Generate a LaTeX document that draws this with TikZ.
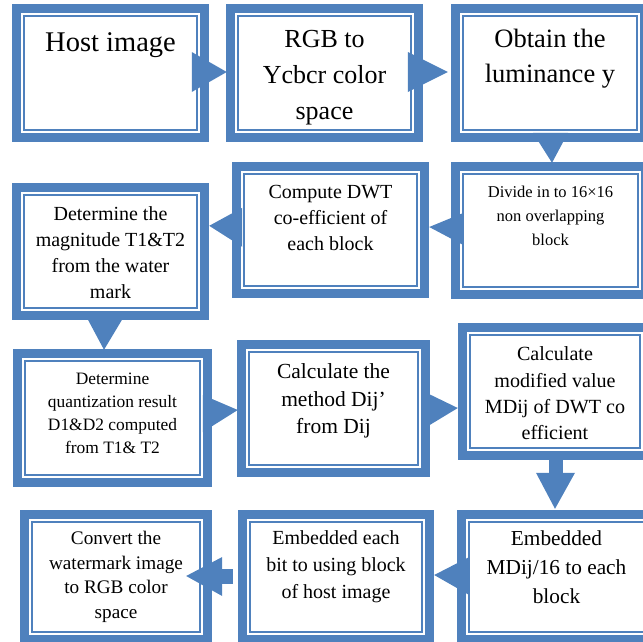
\documentclass[tikz,border=0pt]{standalone}
\usepackage{fontspec}
\setmainfont{Liberation Serif}
\usetikzlibrary{calc}
\definecolor{bl}{HTML}{4F81BD}
\begin{document}
\begin{tikzpicture}[x=1pt,y=-1pt,
  frame/.style 2 args={fill=bl, inner sep=0pt, minimum width=#1, minimum height=#2,
    path picture={
      \fill[white] ([shift={(9pt,9pt)}]path picture bounding box.south west) rectangle ([shift={(-9pt,-9pt)}]path picture bounding box.north east);
      \draw[bl, line width=2.3pt] ([shift={(12.2pt,12.2pt)}]path picture bounding box.south west) rectangle ([shift={(-12.2pt,-12.2pt)}]path picture bounding box.north east);
    }},
  txt/.style={anchor=north, inner sep=0pt, align=center, text=black},
  arr/.style={fill=bl}]
\useasboundingbox (0,0) rectangle (643,641);
\clip (0,0) rectangle (643,641);

% boxes
\node[frame={197}{138}] (b1) at (110.5,73) {};
\node[frame={197}{138}] (b2) at (324.5,73) {};
\node[frame={198}{138}] (b3) at (550,73) {};
\node[frame={199}{137}] (b4) at (550.5,230.5) {};
\node[frame={197}{136}] (b5) at (330.5,230) {};
\node[frame={197}{137}] (b6) at (110.5,251.5) {};
\node[frame={199}{138}] (b7) at (112.5,418) {};
\node[frame={193}{137}] (b8) at (333.5,408.5) {};
\node[frame={194}{137}] (b9) at (555,391.5) {};
\node[frame={199}{134}] (b10) at (556.5,577) {};
\node[frame={196}{134}] (b11) at (336,577) {};
\node[frame={192}{134}] (b12) at (116,577) {};

% texts
\node[txt, font=\fontsize{28.5}{34}\selectfont] (t1) at (110.5,32.5) {Host image};
\node[txt, font=\fontsize{26}{36}\selectfont] (t2) at (324.5,30.3) {RGB to\\Ycbcr color\\space};
\node[txt, font=\fontsize{26.5}{35}\selectfont] (t3) at (550,28.9) {Obtain the\\luminance y};
\node[txt, font=\fontsize{16.5}{24}\selectfont] (t4) at (550.5,185.7) {Divide in to 16×16\\non overlapping\\block};
\node[txt, font=\fontsize{20}{26}\selectfont] (t5) at (330.5,185.3) {Compute DWT\\co-efficient of\\each block};
\node[txt, font=\fontsize{20}{26}\selectfont] (t6) at (110.5,206.3) {Determine the\\magnitude T1\&T2\\from the water\\mark};
\node[txt, font=\fontsize{17.4}{23}\selectfont] (t7) at (112.5,372.6) {Determine\\quantization result\\D1\&D2 computed\\from T1\& T2};
\node[txt, font=\fontsize{21.5}{27.5}\selectfont] (t8) at (333.5,363.8) {Calculate the\\method Dij’\\from Dij};
\node[txt, font=\fontsize{20.1}{26.3}\selectfont] (t9) at (555,346.8) {Calculate\\modified value\\MDij of DWT co\\efficient};
\node[txt, font=\fontsize{21.3}{29}\selectfont] (t10) at (556.5,530.5) {Embedded\\MDij/16 to each\\block};
\node[txt, font=\fontsize{20}{27}\selectfont] (t11) at (336,530.8) {Embedded each\\bit to using block\\of host image};
\node[txt, font=\fontsize{19.2}{24.7}\selectfont] (t12) at (116,530.9) {Convert the\\watermark image\\to RGB color\\space};

% arrows
\fill[arr] ($(b2.west)+(-34,-21)$) -- ($(b2.west)+(1,-1)$) -- ($(b2.west)+(-34,19)$) -- cycle;
\fill[arr] ($(b3.west)+(-43,-21)$) -- ($(b3.west)+(-3,-1)$) -- ($(b3.west)+(-43,19)$) -- cycle;
\fill[arr] ($(b4.north)+(-17.5,-29)$) -- ($(b4.north)+(17.5,-29)$) -- ($(b4.north)+(1.5,1)$) -- cycle;
\fill[arr] ($(b5.east)+(34,-17)$) -- ($(b5.east)+(0,-3)$) -- ($(b5.east)+(34,15)$) -- cycle;
\fill[arr] ($(b6.north east)+(33,25)$) -- ($(b6.north east)+(0,43)$) -- ($(b6.north east)+(33,64)$) -- cycle;
\fill[arr] ($(b7.north)+(-24.5,-29)$) -- ($(b7.north)+(9.5,-29)$) -- ($(b7.north)+(-8.5,1)$) -- cycle;
\fill[arr] ($(b8.west)+(-34,-13.5)$) -- ($(b8.west)+(1,1.5)$) -- ($(b8.west)+(-34,23.5)$) -- cycle;
\fill[arr] ($(b9.west)+(-33,0.5)$) -- ($(b9.west)+(0,16.5)$) -- ($(b9.west)+(-33,36.5)$) -- cycle;
\fill[arr] ($(b10.north)+(-7.5,-55)$) rectangle ($(b10.north)+(6.5,-36)$);
\fill[arr] ($(b10.north)+(-20.5,-37)$) -- ($(b10.north)+(18.5,-37)$) -- ($(b10.north)+(-1.5,-1)$) -- cycle;
\fill[arr] ($(b11.east)+(35,-20)$) -- ($(b11.east)+(0,-2)$) -- ($(b11.east)+(35,18)$) -- cycle;
\fill[arr] ($(b12.east)+(9,-8)$) rectangle ($(b12.east)+(21,7)$);
\fill[arr] ($(b12.east)+(10,-20)$) -- ($(b12.east)+(-26,-1)$) -- ($(b12.east)+(10,19)$) -- cycle;
\end{tikzpicture}
\end{document}
